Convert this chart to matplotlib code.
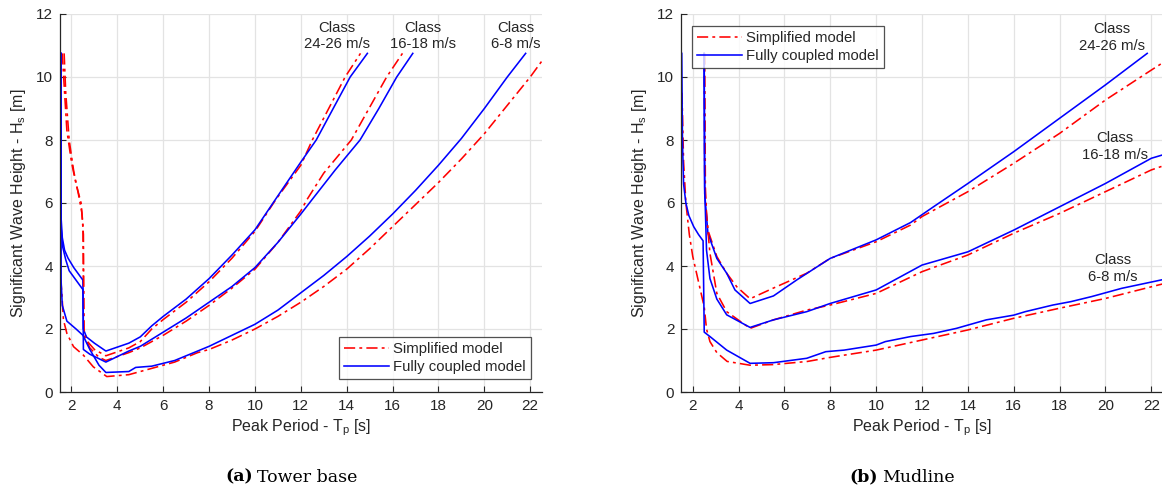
import matplotlib
matplotlib.use("Agg")
import matplotlib.pyplot as plt
from matplotlib.lines import Line2D

plt.rcParams['font.family'] = ['Liberation Sans', 'DejaVu Sans']

# ---------------- data: (a) tower base ----------------
tb_simpl_24_tp = [1.60, 1.70, 1.80, 2.00, 2.20, 2.42, 2.50, 2.53, 2.70, 3.00, 3.50, 4.50, 5.00, 5.50, 6.00,
                  7.00, 8.00, 9.00, 10.00, 10.90, 12.00, 12.50, 13.93, 14.60]
tb_simpl_24_hs = [10.75, 9.50, 8.30, 7.30, 6.60, 6.00, 5.30, 2.00, 1.60, 1.35, 1.15, 1.40, 1.60, 2.00, 2.30,
                  2.85, 3.50, 4.25, 5.10, 6.10, 7.20, 8.00, 10.00, 10.75]
tb_full_24_tp = [1.54, 1.55, 1.60, 1.70, 1.85, 2.10, 2.30, 2.50, 2.52, 2.65, 3.00, 3.50, 4.50, 5.00, 5.50,
                 6.00, 7.00, 8.00, 9.00, 10.00, 10.88, 12.00, 12.67, 14.15, 14.90]
tb_full_24_hs = [10.75, 5.50, 4.90, 4.50, 4.25, 3.95, 3.75, 3.55, 2.00, 1.75, 1.55, 1.30, 1.55, 1.75, 2.10,
                 2.40, 2.95, 3.60, 4.35, 5.15, 6.10, 7.30, 8.00, 10.00, 10.75]

tb_simpl_16_tp = [1.68, 1.75, 1.90, 2.10, 2.30, 2.45, 2.52, 2.55, 2.80, 3.20, 3.50, 4.50, 5.00, 6.00, 7.00,
                  8.00, 9.00, 10.00, 11.00, 12.00, 12.26, 13.00, 14.20, 15.74, 16.43]
tb_simpl_16_hs = [10.75, 9.50, 8.00, 7.00, 6.30, 5.70, 5.00, 1.80, 1.40, 1.10, 1.00, 1.25, 1.40, 1.80, 2.25,
                  2.75, 3.30, 3.90, 4.75, 5.75, 6.10, 6.95, 8.00, 10.00, 10.75]
tb_full_16_tp = [1.54, 1.55, 1.62, 1.75, 1.90, 2.20, 2.50, 2.52, 2.80, 3.50, 4.50, 5.00, 6.00, 7.00, 8.00,
                 9.00, 10.00, 11.00, 12.00, 12.48, 13.50, 14.58, 15.40, 16.18, 16.88]
tb_full_16_hs = [10.75, 5.20, 4.60, 4.20, 3.85, 3.55, 3.25, 1.35, 1.20, 0.95, 1.30, 1.45, 1.90, 2.35, 2.85,
                 3.35, 3.95, 4.75, 5.65, 6.10, 7.05, 8.00, 9.00, 10.00, 10.75]

tb_simpl_6_tp = [1.53, 1.58, 1.65, 1.80, 2.09, 2.52, 2.95, 3.54, 4.50, 5.50, 6.50, 7.50, 8.00, 9.00, 10.00,
                 11.00, 12.00, 13.00, 14.00, 15.00, 16.00, 17.00, 18.00, 19.00, 20.00, 21.00, 22.00, 22.60]
tb_simpl_6_hs = [3.60, 3.13, 2.29, 1.86, 1.44, 1.17, 0.80, 0.49, 0.55, 0.75, 0.95, 1.25, 1.35, 1.65, 2.00,
                 2.40, 2.85, 3.35, 3.90, 4.55, 5.25, 5.95, 6.65, 7.40, 8.20, 9.10, 10.00, 10.60]
tb_full_6_tp = [1.54, 1.55, 1.60, 1.80, 2.20, 2.50, 2.80, 3.20, 3.50, 4.50, 4.80, 5.50, 6.50, 7.50, 8.00,
                9.00, 10.00, 11.00, 12.00, 13.00, 14.00, 15.00, 16.00, 17.00, 18.00, 19.00, 20.00,
                21.00, 21.80]
tb_full_6_hs = [10.75, 3.50, 2.75, 2.25, 2.00, 1.80, 1.35, 0.85, 0.62, 0.65, 0.78, 0.82, 1.00, 1.30, 1.45,
                1.80, 2.15, 2.60, 3.15, 3.70, 4.30, 4.95, 5.65, 6.40, 7.20, 8.05, 9.00, 10.00, 10.75]

# ---------------- data: (b) mudline ----------------
ml_simpl_24_tp = [2.50, 2.52, 2.55, 2.66, 3.05, 3.48, 3.92, 4.50, 5.52, 6.97, 7.99, 10.00, 11.50, 12.00,
                  14.00, 16.00, 18.00, 20.00, 22.00, 22.60]
ml_simpl_24_hs = [10.75, 7.00, 6.10, 5.14, 4.30, 3.77, 3.34, 2.96, 3.30, 3.77, 4.24, 4.77, 5.30, 5.57,
                  6.36, 7.26, 8.21, 9.27, 10.22, 10.50]
ml_full_24_tp = [2.49, 2.52, 2.66, 3.05, 3.48, 3.84, 4.50, 5.52, 6.54, 7.99, 10.00, 11.50, 12.50, 14.00,
                 16.00, 18.00, 20.00, 21.82]
ml_full_24_hs = [10.75, 6.30, 5.04, 4.24, 3.77, 3.24, 2.81, 3.05, 3.56, 4.24, 4.83, 5.38, 5.88, 6.62,
                 7.63, 8.69, 9.75, 10.75]

ml_simpl_16_tp = [2.52, 2.55, 2.60, 2.75, 3.05, 3.48, 4.50, 5.52, 6.97, 7.99, 10.00, 12.00, 14.00, 16.00,
                  18.00, 20.00, 22.00, 22.60]
ml_simpl_16_hs = [10.75, 6.50, 5.60, 4.40, 3.13, 2.55, 2.02, 2.29, 2.60, 2.76, 3.13, 3.82, 4.35, 5.04,
                  5.67, 6.36, 7.05, 7.20]
ml_full_16_tp = [2.50, 2.52, 2.60, 2.75, 3.05, 3.48, 4.50, 5.52, 6.97, 7.99, 10.00, 12.00, 14.00, 16.00,
                 18.00, 20.00, 22.00, 22.60]
ml_full_16_hs = [10.75, 6.50, 4.50, 3.60, 2.95, 2.45, 2.05, 2.29, 2.55, 2.81, 3.24, 4.03, 4.45, 5.14,
                 5.88, 6.62, 7.42, 7.55]

ml_simpl_6_tp = [1.53, 1.60, 1.70, 1.85, 2.00, 2.25, 2.50, 2.60, 2.75, 3.05, 3.50, 4.50, 5.50, 7.00, 8.00,
                 10.00, 12.00, 14.00, 16.00, 18.00, 20.00, 22.00, 22.60]
ml_simpl_6_hs = [9.50, 7.30, 6.00, 5.00, 4.30, 3.50, 2.70, 2.00, 1.60, 1.25, 0.97, 0.85, 0.87, 0.97, 1.10,
                 1.33, 1.65, 1.97, 2.34, 2.66, 2.97, 3.34, 3.45]
ml_full_6_tp = [1.52, 1.55, 1.60, 1.70, 1.83, 2.04, 2.25, 2.45, 2.50, 2.75, 3.48, 4.50, 5.52, 6.97, 7.80,
                8.60, 10.00, 10.40, 11.50, 12.50, 13.50, 14.80, 16.00, 16.50, 17.70, 18.50, 19.40, 20.70,
                22.45, 22.60]
ml_full_6_hs = [10.75, 8.00, 6.60, 6.00, 5.60, 5.25, 5.00, 4.80, 1.90, 1.76, 1.33, 0.91, 0.93, 1.07, 1.28,
                1.33, 1.49, 1.60, 1.76, 1.86, 2.02, 2.29, 2.44, 2.55, 2.76, 2.87, 3.03, 3.29, 3.56, 3.58]

xticks = [2, 4, 6, 8, 10, 12, 14, 16, 18, 20, 22]
yticks = [0, 2, 4, 6, 8, 10, 12]
legend_labels = ['Simplified model', 'Fully coupled model']
class_labels = ['Class\n24-26 m/s', 'Class\n16-18 m/s', 'Class\n6-8 m/s']

RED = '#ff0000'
BLUE = '#0000ff'
INK = '#262626'
DASHDOT = (0, (7, 2.6, 1.8, 2.6))
LW = 1.15

W, H = 1162, 490
fig = plt.figure(figsize=(W / 100, H / 100), dpi=100)


def make_axes(x0, x1):
    ax = fig.add_axes([x0 / W, (H - 392) / H, (x1 - x0) / W, (392 - 14) / H])
    ax.set_xlim(1.5, 22.5)
    ax.set_ylim(0, 12)
    ax.set_xticks(xticks)
    ax.set_yticks(yticks)
    ax.grid(True, color='#e3e3e3', lw=0.9)
    ax.set_axisbelow(True)
    for s in ('top', 'right'):
        ax.spines[s].set_visible(False)
    for s in ('left', 'bottom'):
        ax.spines[s].set_linewidth(0.9)
        ax.spines[s].set_color(INK)
    ax.tick_params(direction='in', length=4, width=0.8, color=INK,
                   labelsize=11, labelcolor=INK, pad=5)
    ax.set_xlabel('Peak Period - T$_\\mathregular{p}$ [s]', fontsize=11.5, color=INK, labelpad=3)
    ax.set_ylabel('Significant Wave Height - H$_\\mathregular{s}$ [m]', fontsize=11.5, color=INK,
                  labelpad=6)
    return ax


def pair(ax, stp, shs, ftp, fhs):
    ax.plot(stp, shs, color=RED, lw=LW, linestyle=DASHDOT)
    ax.plot(ftp, fhs, color=BLUE, lw=LW)


axa = make_axes(60, 541.7)
pair(axa, tb_simpl_24_tp, tb_simpl_24_hs, tb_full_24_tp, tb_full_24_hs)
pair(axa, tb_simpl_16_tp, tb_simpl_16_hs, tb_full_16_tp, tb_full_16_hs)
pair(axa, tb_simpl_6_tp, tb_simpl_6_hs, tb_full_6_tp, tb_full_6_hs)

axb = make_axes(681.3, 1162.8)
pair(axb, ml_simpl_24_tp, ml_simpl_24_hs, ml_full_24_tp, ml_full_24_hs)
pair(axb, ml_simpl_16_tp, ml_simpl_16_hs, ml_full_16_tp, ml_full_16_hs)
pair(axb, ml_simpl_6_tp, ml_simpl_6_hs, ml_full_6_tp, ml_full_6_hs)

handles = [Line2D([], [], color=RED, lw=LW, linestyle=DASHDOT),
           Line2D([], [], color=BLUE, lw=LW)]


def add_legend(ax, x0, y0, x1, y1):
    bb = (x0 / W, 1 - y1 / H, (x1 - x0) / W, (y1 - y0) / H)
    leg = ax.legend(handles, legend_labels, loc='center', bbox_to_anchor=bb,
                    bbox_transform=fig.transFigure, fontsize=10.7, frameon=True, fancybox=False,
                    edgecolor=INK, handlelength=3.0, handletextpad=0.3, borderpad=0.35,
                    labelspacing=0.3, borderaxespad=0)
    leg.get_frame().set_linewidth(0.9)
    for t in leg.get_texts():
        t.set_color(INK)


add_legend(axa, 340.7, 336.7, 529.3, 379.3)
add_legend(axb, 693.3, 25.7, 882.3, 68.3)

# class annotations (figure-pixel placement)
for txt, (x, y) in zip(class_labels, [(336.7, 36), (422.7, 36), (516, 36)]):
    fig.text(x / W, 1 - y / H, txt, ha='center', va='center', fontsize=10.7, color=INK,
             linespacing=1.2)
for txt, (x, y) in zip(class_labels, [(1111.7, 37.5), (1115, 146.5), (1113, 268.5)]):
    fig.text(x / W, 1 - y / H, txt, ha='center', va='center', fontsize=10.7, color=INK,
             linespacing=1.2)

# sub-captions
serif = ['DejaVu Serif']
fig.text(253 / W, 1 - 477 / H, '(a)', ha='right', va='center', fontsize=12.5, fontweight='bold',
         family=serif)
fig.text(257 / W, 1 - 477 / H, 'Tower base', ha='left', va='center', fontsize=12.5, family=serif)
fig.text(878 / W, 1 - 477 / H, '(b)', ha='right', va='center', fontsize=12.5, fontweight='bold',
         family=serif)
fig.text(882 / W, 1 - 477 / H, 'Mudline', ha='left', va='center', fontsize=12.5, family=serif)

fig.savefig('out.png', dpi=100, facecolor='white')
